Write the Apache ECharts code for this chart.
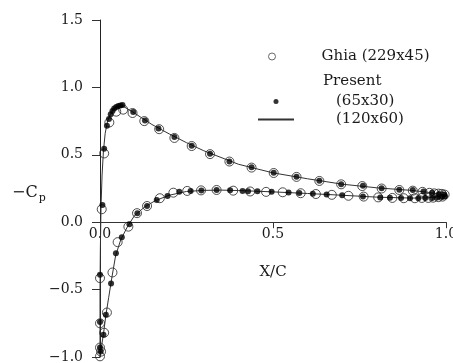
<!DOCTYPE html>
<html>
<head>
<meta charset="utf-8">
<script src="https://cdn.jsdelivr.net/npm/echarts@6/dist/echarts.min.js"></script>
<style>
  html, body { margin: 0; padding: 0; background: #fff; }
  #chart { width: 453px; height: 363px; }
</style>
</head>
<body>
<div id="chart"></div>
<script>
// Ghia (229x45) - open circles
var ghiaUpperX = [0.0, 0.0, 0.0, 0.0, 0.005, 0.012, 0.027, 0.047, 0.067, 0.094, 0.128, 0.171, 0.215, 0.265, 0.318, 0.374, 0.438, 0.502, 0.568, 0.634, 0.697, 0.758, 0.814, 0.865, 0.904, 0.932, 0.952, 0.966, 0.978, 0.988, 0.996]
var ghiaUpperY = [-0.995, -0.93, -0.75, -0.415, 0.096, 0.51, 0.74, 0.82, 0.835, 0.81, 0.75, 0.69, 0.625, 0.565, 0.505, 0.45, 0.405, 0.365, 0.336, 0.306, 0.281, 0.268, 0.25, 0.239, 0.234, 0.225, 0.218, 0.214, 0.212, 0.21, 0.205]
var ghiaLowerX = [0.003, 0.012, 0.02, 0.036, 0.051, 0.082, 0.107, 0.136, 0.173, 0.212, 0.252, 0.292, 0.337, 0.385, 0.434, 0.48, 0.528, 0.58, 0.624, 0.67, 0.718, 0.762, 0.804, 0.845, 0.878, 0.91, 0.93, 0.949, 0.963, 0.978, 0.99]
var ghiaLowerY = [-0.96, -0.82, -0.67, -0.373, -0.148, -0.033, 0.067, 0.12, 0.178, 0.219, 0.232, 0.236, 0.239, 0.234, 0.228, 0.225, 0.222, 0.215, 0.209, 0.203, 0.196, 0.19, 0.184, 0.18, 0.178, 0.178, 0.18, 0.18, 0.182, 0.186, 0.19]

// Present (65x30) - filled dots
var presUpperX = [0.0, 0.0, 0.0, 0.007, 0.012, 0.02, 0.026, 0.031, 0.036, 0.041, 0.047, 0.053, 0.059, 0.065, 0.096, 0.13, 0.169, 0.215, 0.265, 0.318, 0.374, 0.438, 0.502, 0.568, 0.634, 0.697, 0.76, 0.814, 0.865, 0.904, 0.935, 0.96, 0.98, 0.995]
var presUpperY = [-0.93, -0.74, -0.39, 0.128, 0.545, 0.715, 0.765, 0.8, 0.825, 0.843, 0.855, 0.862, 0.866, 0.87, 0.818, 0.755, 0.695, 0.632, 0.568, 0.507, 0.45, 0.408, 0.367, 0.337, 0.307, 0.282, 0.27, 0.252, 0.24, 0.238, 0.228, 0.218, 0.21, 0.205]
var presLowerX = [0.002, 0.01, 0.017, 0.032, 0.046, 0.063, 0.085, 0.108, 0.136, 0.164, 0.195, 0.229, 0.262, 0.293, 0.337, 0.376, 0.412, 0.428, 0.455, 0.496, 0.545, 0.576, 0.615, 0.655, 0.7, 0.76, 0.81, 0.838, 0.87, 0.896, 0.92, 0.94, 0.96, 0.975, 0.988, 0.997]
var presLowerY = [-0.96, -0.835, -0.687, -0.455, -0.23, -0.111, -0.015, 0.067, 0.121, 0.165, 0.195, 0.225, 0.232, 0.235, 0.239, 0.237, 0.232, 0.23, 0.229, 0.225, 0.22, 0.216, 0.211, 0.206, 0.2, 0.19, 0.184, 0.181, 0.179, 0.178, 0.178, 0.179, 0.18, 0.183, 0.187, 0.192]

// (120x60) - solid line, leading edge -> trailing edge
var lineUpperX = [0.0, 0.0, 0.0, 0.001, 0.003, 0.006, 0.01, 0.015, 0.022, 0.03, 0.04, 0.055, 0.07, 0.09, 0.12, 0.15, 0.2, 0.25, 0.3, 0.4, 0.5, 0.6, 0.7, 0.8, 0.9, 0.96, 1.0]
var lineUpperY = [-1.0, -0.8, -0.5, -0.2, 0.12, 0.35, 0.53, 0.66, 0.75, 0.8, 0.84, 0.862, 0.855, 0.825, 0.775, 0.725, 0.655, 0.59, 0.53, 0.43, 0.366, 0.322, 0.282, 0.255, 0.236, 0.218, 0.2]
var lineLowerX = [0.0, 0.005, 0.01, 0.017, 0.025, 0.035, 0.045, 0.06, 0.08, 0.1, 0.13, 0.16, 0.2, 0.25, 0.3, 0.35, 0.4, 0.5, 0.6, 0.7, 0.8, 0.9, 0.95, 1.0]
var lineLowerY = [-1.0, -0.91, -0.83, -0.69, -0.56, -0.4, -0.25, -0.13, -0.03, 0.05, 0.115, 0.16, 0.2, 0.228, 0.236, 0.238, 0.235, 0.225, 0.213, 0.2, 0.186, 0.179, 0.181, 0.2]

var xTicks = [0, 0.5, 1.0]
var yTicks = [-1.0, -0.5, 0.0, 0.5, 1.0, 1.5]

function pairs(xs, ys) {
  return xs.map(function (x, i) { return [x, ys[i]] })
}

var serif = 'DejaVu Serif'
var ink = '#1a1a1a'

var chart = echarts.init(document.getElementById('chart'))

var ghiaData = pairs(ghiaUpperX, ghiaUpperY).concat(pairs(ghiaLowerX, ghiaLowerY))
var presData = pairs(presUpperX, presUpperY).concat(pairs(presLowerX, presLowerY))
// trailing edge (upper) -> leading edge -> trailing edge (lower)
var lineData = pairs(lineUpperX, lineUpperY).reverse().concat(pairs(lineLowerX, lineLowerY))

function fmt(v) {
  return (v < 0 ? '\u2212' : '') + Math.abs(v).toFixed(1)
}

// plot box: top 20, bottom 357 -> y = 0 sits at 20 + 337 * 1.5 / 2.5
var plotTop = 20, plotH = 337
var zeroY = plotH * (yTicks[yTicks.length - 1] / (yTicks[yTicks.length - 1] - yTicks[0]))

var option = {
  animation: false,
  backgroundColor: '#fff',
  grid: [
    { left: 100, right: 7, top: plotTop, height: plotH, containLabel: false, outerBoundsMode: 'none' },
    // upper half only, so its bottom x axis lands on -Cp = 0
    { left: 100, right: 7, top: plotTop, height: zeroY, containLabel: false, outerBoundsMode: 'none' }
  ],
  xAxis: [{
    type: 'value',
    gridIndex: 0,
    min: xTicks[0],
    max: xTicks[xTicks.length - 1],
    interval: 0.5,
    show: false
  }, {
    type: 'value',
    gridIndex: 1,
    position: 'bottom',
    min: xTicks[0],
    max: xTicks[xTicks.length - 1],
    interval: 0.5,
    name: 'X/C',
    nameLocation: 'middle',
    nameGap: 42,
    nameTextStyle: { fontFamily: serif, fontSize: 15, color: ink },
    axisLine: { show: true, onZero: false, lineStyle: { color: '#333', width: 1 } },
    axisTick: { show: true, length: 6, lineStyle: { color: '#333' } },
    axisLabel: { fontFamily: serif, fontSize: 14, color: ink, margin: 5, formatter: fmt },
    splitLine: { show: false }
  }],
  yAxis: [{
    type: 'value',
    gridIndex: 0,
    min: yTicks[0],
    max: yTicks[yTicks.length - 1],
    interval: 0.5,
    axisLine: { show: true, onZero: false, lineStyle: { color: '#222', width: 1 } },
    axisTick: { show: true, length: 8, lineStyle: { color: '#333' } },
    axisLabel: { fontFamily: serif, fontSize: 14, color: ink, margin: 17, formatter: fmt },
    splitLine: { show: false }
  }, {
    type: 'value',
    gridIndex: 1,
    min: 0,
    max: 1,
    show: false
  }],
  legend: [{
    data: [{ name: 'Ghia (229x45)', itemStyle: { color: 'transparent', borderColor: '#444', borderWidth: 1 } }],
    left: 263,
    top: 44,
    itemWidth: 7,
    itemHeight: 7,
    textStyle: { fontFamily: serif, fontSize: 15, color: ink, padding: [0, 0, 0, 41] }
  }, {
    data: ['(65x30)', { name: '(120x60)', itemStyle: { opacity: 0 } }],
    orient: 'vertical',
    left: 252,
    top: 89,
    itemGap: 3,
    itemWidth: 36,
    itemHeight: 5,
    textStyle: { fontFamily: serif, fontSize: 15, color: ink, padding: [0, 0, 0, 37] }
  }],
  graphic: [{
    type: 'text',
    left: 323,
    top: 74,
    style: { text: 'Present', font: '15px "DejaVu Serif"', fill: ink }
  }, {
    type: 'text',
    left: 12,
    top: 185,
    style: {
      text: '{a|\u2212C}{b|p}',
      rich: {
        a: { fontFamily: serif, fontSize: 16, fill: ink, color: ink },
        b: { fontFamily: serif, fontSize: 11, fill: ink, color: ink, padding: [10, 0, 0, 1] }
      }
    }
  }],
  series: [{
    name: 'Ghia (229x45)',
    type: 'scatter',
    xAxisIndex: 0,
    yAxisIndex: 0,
    symbol: 'circle',
    symbolSize: 9,
    itemStyle: { color: 'transparent', borderColor: '#222', borderWidth: 1 },
    data: ghiaData,
    z: 2
  }, {
    name: '(120x60)',
    type: 'line',
    xAxisIndex: 0,
    yAxisIndex: 0,
    symbol: 'none',
    smooth: false,
    lineStyle: { color: '#333', width: 1 },
    itemStyle: { color: '#333' },
    data: lineData,
    z: 3
  }, {
    name: '(65x30)',
    type: 'scatter',
    xAxisIndex: 0,
    yAxisIndex: 0,
    symbol: 'circle',
    symbolSize: 6,
    itemStyle: { color: '#000' },
    data: presData,
    z: 4
  }]
}

chart.setOption(option)
</script>
</body>
</html>
